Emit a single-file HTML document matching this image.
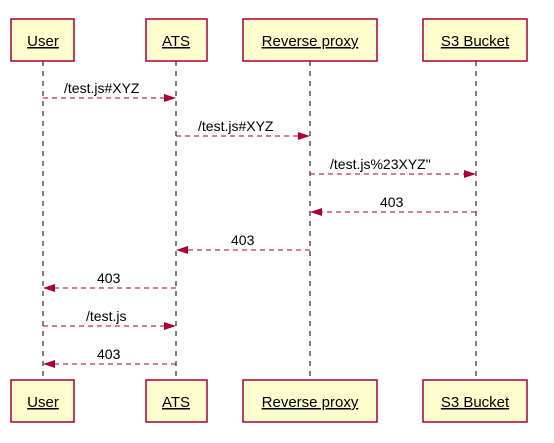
<!DOCTYPE html>
<html><head><style>body{margin:0;background:#fff}</style></head><body>
<svg width="554" height="438" xmlns="http://www.w3.org/2000/svg" font-family="Liberation Sans, sans-serif" font-size="14">
<g stroke="#000" stroke-dasharray="5,5" stroke-width="1">
<line x1="43" y1="61" x2="43" y2="380"/><line x1="176" y1="61" x2="176" y2="380"/>
<line x1="310" y1="61" x2="310" y2="380"/><line x1="476" y1="61" x2="476" y2="380"/>
</g>
<g fill="#FEFECE" stroke="#A80036" stroke-width="1.5">
<rect x="11" y="19" width="63" height="42"/><rect x="146" y="19" width="61" height="42"/>
<rect x="243" y="19" width="134" height="42"/><rect x="423" y="19" width="104" height="42"/>
<rect x="11" y="380" width="63" height="42"/><rect x="146" y="380" width="61" height="42"/>
<rect x="243" y="380" width="134" height="42"/><rect x="423" y="380" width="104" height="42"/>
</g>
<g text-anchor="middle" text-decoration="underline" fill="#000" font-size="15">
<text x="43" y="46">User</text><text x="176" y="46">ATS</text><text x="310" y="46">Reverse proxy</text><text x="475" y="46">S3 Bucket</text>
<text x="43" y="407">User</text><text x="176" y="407">ATS</text><text x="310" y="407">Reverse proxy</text><text x="475" y="407">S3 Bucket</text>
</g>
<g stroke="#A80036" stroke-dasharray="5,4" stroke-width="1">
<line x1="43" y1="98" x2="166" y2="98"/><line x1="176" y1="136" x2="300" y2="136"/>
<line x1="310" y1="174" x2="466" y2="174"/><line x1="476" y1="212" x2="320" y2="212"/>
<line x1="310" y1="250" x2="186" y2="250"/><line x1="176" y1="288" x2="53" y2="288"/>
<line x1="43" y1="326" x2="166" y2="326"/><line x1="176" y1="364" x2="53" y2="364"/>
</g>
<g fill="#A80036">
<polygon points="176,98 164,94 164,102"/><polygon points="310,136 298,132 298,140"/>
<polygon points="476,174 464,170 464,178"/><polygon points="310,212 322,208 322,216"/>
<polygon points="176,250 188,246 188,254"/><polygon points="43,288 55,284 55,292"/>
<polygon points="176,326 164,322 164,330"/><polygon points="43,364 55,360 55,368"/>
</g>
<g fill="#000" font-size="14">
<text x="64" y="93">/test.js#XYZ</text><text x="198" y="131">/test.js#XYZ</text>
<text x="330" y="169">/test.js%23XYZ"</text><text x="380" y="207">403</text>
<text x="231" y="245">403</text><text x="97" y="283">403</text>
<text x="86" y="321">/test.js</text><text x="97" y="359">403</text>
</g>
</svg>
</body></html>
